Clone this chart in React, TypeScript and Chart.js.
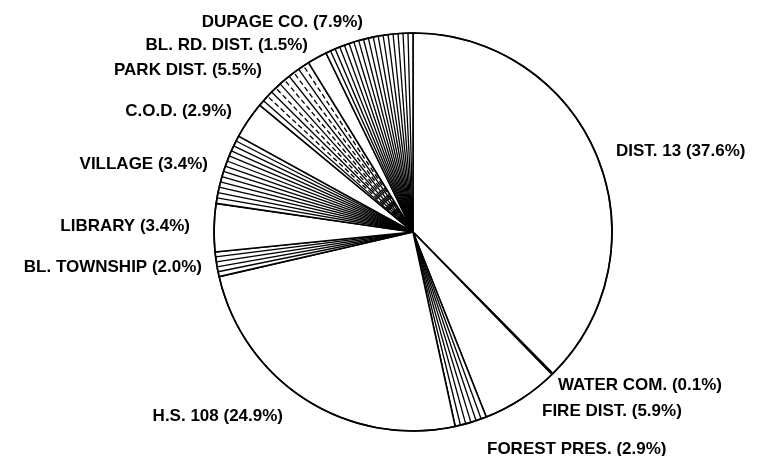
import React, { useEffect, useRef } from "react";
import { Chart, registerables } from "chart.js";

Chart.register(...registerables);

// ---- data ----
const categories = [
  "DIST. 13",
  "WATER COM.",
  "FIRE DIST.",
  "FOREST PRES.",
  "H.S. 108",
  "BL. TOWNSHIP",
  "LIBRARY",
  "VILLAGE",
  "C.O.D.",
  "PARK DIST.",
  "BL. RD. DIST.",
  "DUPAGE CO.",
];
// percentages printed in the labels
const printedPercents = [37.6, 0.1, 5.9, 2.9, 24.9, 2.0, 3.4, 3.4, 2.9, 5.5, 1.5, 7.9];
// shares of the circle as the slices are actually drawn in the picture
const drawnShares = [37.6, 0.1, 6.3, 2.6, 24.8, 2.0, 3.9, 5.7, 3.0, 5.2, 1.6, 7.2];

// ---- styles ----
// angle (degrees) between hatch lines; 0 = plain white slice
const hatchStepDeg = [0, 0, 0, 1.6, 0, 1.5, 0, 1.55, 0, 1.7, 0, 1.45];
const hatchDashed = [false, false, false, false, false, false, false, false, false, true, false, false];
// label anchors relative to the pie centre, in units of the radius (x, baseline y, align)
const labelLayout: [number, number, CanvasTextAlign][] = [
  [203 / 199, -76 / 199, "left"],
  [145 / 199, 158 / 199, "left"],
  [129 / 199, 184 / 199, "left"],
  [74 / 199, 222 / 199, "left"],
  [-130 / 199, 189 / 199, "right"],
  [-211 / 199, 40 / 199, "right"],
  [-223 / 199, -1 / 199, "right"],
  [-205 / 199, -63 / 199, "right"],
  [-181 / 199, -116 / 199, "right"],
  [-151 / 199, -157 / 199, "right"],
  [-105 / 199, -182 / 199, "right"],
  [-50 / 199, -205 / 199, "right"],
];

const FONT = 'bold 17px "Liberation Sans", Arial, Helvetica, sans-serif';

const overlayPlugin = {
  id: "hatchAndLabels",
  afterDatasetsDraw(chart: any) {
    const ctx: CanvasRenderingContext2D = chart.ctx;
    const meta = chart.getDatasetMeta(0);
    meta.data.forEach((arc: any, i: number) => {
      const step = (hatchStepDeg[i] * Math.PI) / 180;
      if (!step) return;
      const { x, y, startAngle, endAngle, outerRadius } = arc.getProps(
        ["x", "y", "startAngle", "endAngle", "outerRadius"],
        true
      );
      ctx.save();
      ctx.beginPath();
      ctx.moveTo(x, y);
      ctx.arc(x, y, outerRadius, startAngle, endAngle);
      ctx.closePath();
      ctx.clip();
      ctx.strokeStyle = "#000";
      ctx.lineWidth = 1.3;
      const n = Math.max(1, Math.round((endAngle - startAngle) / step));
      for (let k = 1; k < n; k++) {
        const a = startAngle + ((endAngle - startAngle) * k) / n;
        ctx.beginPath();
        if (hatchDashed[i] && k % 2 === 0) ctx.setLineDash([5, 3]);
        else ctx.setLineDash([]);
        ctx.moveTo(x, y);
        ctx.lineTo(x + Math.cos(a) * outerRadius, y + Math.sin(a) * outerRadius);
        ctx.stroke();
      }
      ctx.restore();
    });
    // redraw the outline on top of the hatching
    const first = meta.data[0];
    if (first) {
      const { x, y, outerRadius } = first.getProps(["x", "y", "outerRadius"], true);
      ctx.save();
      ctx.beginPath();
      ctx.arc(x, y, outerRadius, 0, Math.PI * 2);
      ctx.strokeStyle = "#000";
      ctx.lineWidth = 1.6;
      ctx.stroke();
      ctx.restore();
    }
  },
  afterDraw(chart: any) {
    const ctx: CanvasRenderingContext2D = chart.ctx;
    const meta = chart.getDatasetMeta(0);
    const first = meta.data[0];
    if (!first) return;
    const { x, y, outerRadius } = first.getProps(["x", "y", "outerRadius"], true);
    ctx.save();
    ctx.font = FONT;
    ctx.fillStyle = "#000";
    ctx.textBaseline = "alphabetic";
    categories.forEach((name, i) => {
      const [lx, ly, align] = labelLayout[i];
      ctx.textAlign = align;
      const txt = `${name} (${printedPercents[i].toFixed(1)}%)`;
      ctx.fillText(txt, x + lx * outerRadius, y + ly * outerRadius);
    });
    ctx.restore();
  },
};

export default function App() {
  const ref = useRef<HTMLCanvasElement | null>(null);

  useEffect(() => {
    document.body.style.margin = "0";
    document.body.style.background = "#fff";
    const canvas = ref.current;
    if (!canvas) return;
    const chart = new Chart(canvas, {
      type: "pie",
      data: {
        labels: categories,
        datasets: [
          {
            data: drawnShares,
            backgroundColor: "#ffffff",
            borderColor: "#000000",
            borderWidth: 1.6,
            radius: 199,
          } as any,
        ],
      },
      options: {
        responsive: false,
        animation: false,
        layout: { padding: { left: 214, right: 156, top: 33, bottom: 25 } },
        plugins: {
          legend: { display: false },
          tooltip: { enabled: false },
        },
      },
      plugins: [overlayPlugin],
    });
    return () => chart.destroy();
  }, []);

  return (
    <div style={{ width: 768, height: 456, background: "#fff" }}>
      <canvas ref={ref} width={768} height={456} style={{ display: "block" }} />
    </div>
  );
}
